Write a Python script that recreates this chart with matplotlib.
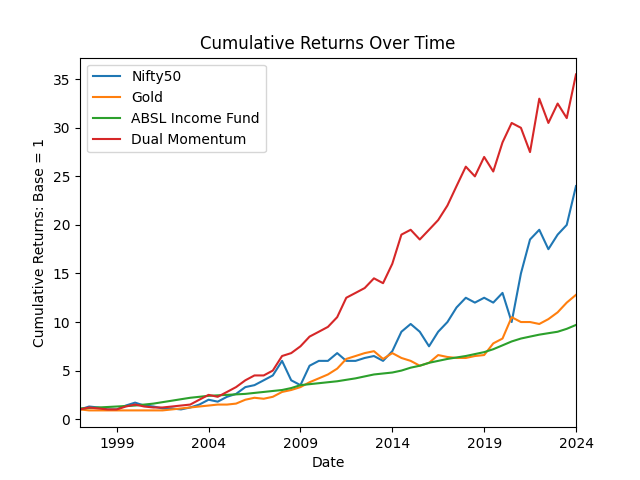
import matplotlib
matplotlib.use("Agg")
import matplotlib.pyplot as plt
import matplotlib.dates as mdates
import pandas as pd

# half-yearly readings, Jan 1997 .. Jan 2024
dates = pd.date_range("1997-01-01", "2024-01-01", freq="6MS")

nifty = [1.0, 1.3, 1.2, 1.0, 1.0, 1.4, 1.7, 1.4, 1.3, 1.1, 1.1, 1.0, 1.2, 1.5,
         2.0, 1.8, 2.3, 2.6, 3.3, 3.5, 4.0, 4.5, 6.0, 4.0, 3.5, 5.5, 6.0, 6.0,
         6.8, 6.0, 6.0, 6.3, 6.5, 6.0, 7.0, 9.0, 9.8, 9.0, 7.5, 9.0, 10.0, 11.5,
         12.5, 12.0, 12.5, 12.0, 13.0, 10.0, 15.0, 18.5, 19.5, 17.5, 19.0, 20.0, 24.0]
gold = [1.0, 0.9, 0.9, 0.9, 0.9, 0.9, 0.9, 0.9, 0.9, 0.9, 1.0, 1.1, 1.2, 1.3,
        1.4, 1.5, 1.5, 1.6, 2.0, 2.2, 2.1, 2.3, 2.8, 3.0, 3.3, 3.8, 4.2, 4.6,
        5.2, 6.2, 6.5, 6.8, 7.0, 6.2, 6.8, 6.3, 6.0, 5.5, 5.8, 6.6, 6.4, 6.3,
        6.3, 6.5, 6.6, 7.8, 8.3, 10.5, 10.0, 10.0, 9.8, 10.3, 11.0, 12.0, 12.8]
absl = [1.1, 1.15, 1.2, 1.25, 1.3, 1.35, 1.4, 1.5, 1.6, 1.75, 1.9, 2.05, 2.2, 2.3,
        2.4, 2.45, 2.5, 2.55, 2.6, 2.7, 2.8, 2.9, 3.0, 3.2, 3.5, 3.6, 3.7, 3.8,
        3.9, 4.05, 4.2, 4.4, 4.6, 4.7, 4.8, 5.0, 5.3, 5.5, 5.8, 6.0, 6.2, 6.35,
        6.5, 6.7, 6.9, 7.2, 7.6, 8.0, 8.3, 8.5, 8.7, 8.85, 9.0, 9.3, 9.7]
dual = [1.0, 1.2, 1.1, 1.0, 1.0, 1.3, 1.5, 1.3, 1.2, 1.2, 1.3, 1.4, 1.5, 2.0,
        2.5, 2.3, 2.8, 3.3, 4.0, 4.5, 4.5, 5.0, 6.5, 6.8, 7.5, 8.5, 9.0, 9.5,
        10.5, 12.5, 13.0, 13.5, 14.5, 14.0, 16.0, 19.0, 19.5, 18.5, 19.5, 20.5, 22.0, 24.0,
        26.0, 25.0, 27.0, 25.5, 28.5, 30.5, 30.0, 27.5, 33.0, 30.5, 32.5, 31.0, 35.5]

fig, ax = plt.subplots(figsize=(6.4, 4.8), dpi=100)
ax.plot(dates, nifty, label="Nifty50")
ax.plot(dates, gold, label="Gold")
ax.plot(dates, absl, label="ABSL Income Fund")
ax.plot(dates, dual, label="Dual Momentum")
ax.set_xlim(pd.Timestamp("1997-01-01"), pd.Timestamp("2024-01-01"))
ax.set_xticks([pd.Timestamp(f"{y}-01-01") for y in range(1999, 2025, 5)])
ax.xaxis.set_major_formatter(mdates.DateFormatter("%Y"))
ax.set_title("Cumulative Returns Over Time")
ax.set_xlabel("Date")
ax.set_ylabel("Cumulative Returns: Base = 1")
ax.legend(loc="upper left")
fig.savefig("out.png")
